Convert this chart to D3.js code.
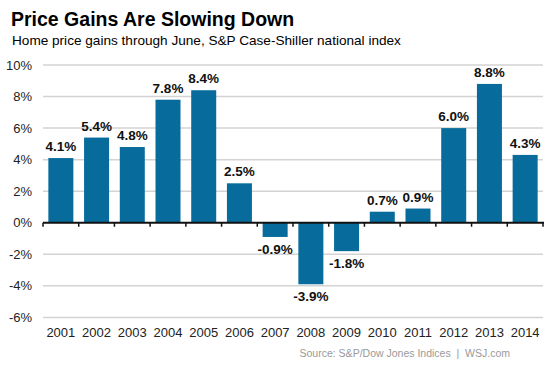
<!DOCTYPE html>
<html>
<head>
<meta charset="utf-8">
<script src="https://cdn.jsdelivr.net/npm/d3@7"></script>
<style>
  body { margin: 0; background: #fff; }
  text { font-family: "Liberation Sans", Arial, sans-serif; }
</style>
</head>
<body>
<div id="chart"></div>
<script>
const years = ['2001', '2002', '2003', '2004', '2005', '2006', '2007',
  '2008', '2009', '2010', '2011', '2012', '2013', '2014'];
const gains = [4.1, 5.4, 4.8, 7.8, 8.4, 2.5, -0.9, -3.9, -1.8, 0.7, 0.9, 6.0, 8.8, 4.3];
const yTicks = [10, 8, 6, 4, 2, 0, -2, -4, -6];

const width = 553, height = 369;

const svg = d3.select('#chart')
  .append('svg')
  .attr('width', width)
  .attr('height', height);

// title + subtitle
svg.append('text')
  .attr('x', 11).attr('y', 26)
  .style('font-size', '19.5px').style('font-weight', 'bold')
  .text('Price Gains Are Slowing Down');
svg.append('text')
  .attr('x', 12).attr('y', 45)
  .style('font-size', '13.6px')
  .text('Home price gains through June, S&P Case-Shiller national index');

const x = d3.scaleBand()
  .domain(years)
  .range([43, 543])
  .paddingInner(0.3)
  .paddingOuter(0.15);

const y = d3.scaleLinear()
  .domain([-6, 10])
  .range([317.4, 65]);

// gridlines
svg.append('g')
  .selectAll('line')
  .data(yTicks.filter(d => d !== 0))
  .join('line')
  .attr('x1', 43).attr('x2', 543)
  .attr('y1', d => y(d)).attr('y2', d => y(d))
  .attr('stroke', '#d3d3d3')
  .attr('stroke-width', 1.5);

// y labels
svg.append('g')
  .selectAll('text')
  .data(yTicks)
  .join('text')
  .attr('x', 32)
  .attr('y', d => y(d) + 4.5)
  .attr('text-anchor', 'end')
  .style('font-size', '13px')
  .style('fill', '#222')
  .text(d => d + '%');

// bars
svg.append('g')
  .selectAll('rect')
  .data(gains)
  .join('rect')
  .attr('x', (d, i) => x(years[i]))
  .attr('width', x.bandwidth())
  .attr('y', d => y(Math.max(0, d)))
  .attr('height', d => Math.abs(y(d) - y(0)))
  .attr('fill', '#076b9c');

// zero axis with ticks at band boundaries
const bounds = d3.range(years.length + 1).map(i => 43 + i * (500 / years.length));
svg.append('line')
  .attr('x1', 43).attr('x2', 544)
  .attr('y1', y(0)).attr('y2', y(0))
  .attr('stroke', '#111').attr('stroke-width', 2);
svg.append('g')
  .selectAll('line')
  .data(bounds)
  .join('line')
  .attr('x1', d => d).attr('x2', d => d)
  .attr('y1', y(0)).attr('y2', y(0) + 4)
  .attr('stroke', '#111').attr('stroke-width', 1.5);

// value labels
svg.append('g')
  .selectAll('text')
  .data(gains)
  .join('text')
  .attr('x', (d, i) => x(years[i]) + x.bandwidth() / 2)
  .attr('y', d => d >= 0 ? y(d) - 7 : y(d) + 17)
  .attr('text-anchor', 'middle')
  .style('font-size', '13.5px')
  .style('font-weight', 'bold')
  .style('fill', '#111')
  .text(d => d.toFixed(1) + '%');

// year labels
svg.append('g')
  .selectAll('text')
  .data(years)
  .join('text')
  .attr('x', d => x(d) + x.bandwidth() / 2)
  .attr('y', 337)
  .attr('text-anchor', 'middle')
  .style('font-size', '13px')
  .style('fill', '#222')
  .text(d => d);

// source
svg.append('text')
  .attr('x', 510).attr('y', 357)
  .attr('text-anchor', 'end')
  .style('font-size', '10.5px')
  .style('fill', '#999')
  .style('white-space', 'pre')
  .text('Source: S&P/Dow Jones Indices  |  WSJ.com');
</script>
</body>
</html>
